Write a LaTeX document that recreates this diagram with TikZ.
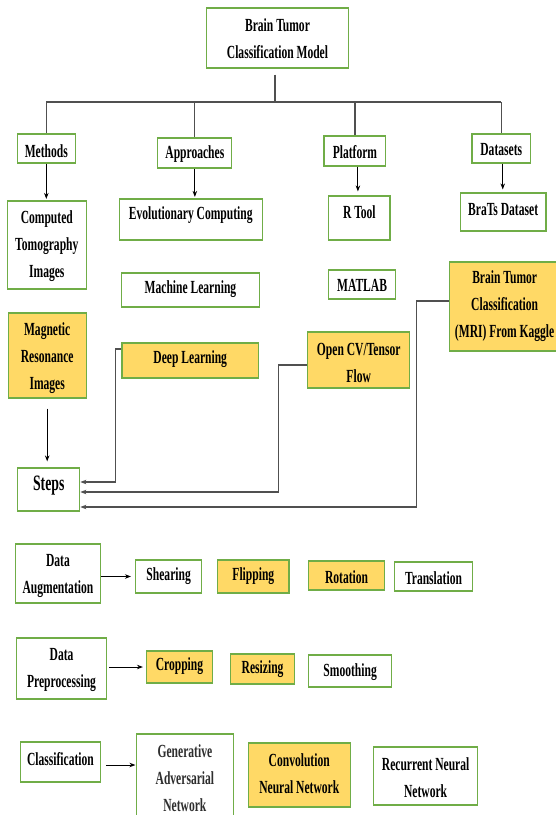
\documentclass[tikz,border=0pt]{standalone}
\usepackage{fontspec}
\setmainfont[FakeStretch=0.625]{Liberation Serif}
\usetikzlibrary{arrows.meta,calc}
\definecolor{bgreen}{HTML}{70AD47}
\definecolor{byellow}{HTML}{FFD966}
\definecolor{lgray}{HTML}{505050}
\tikzset{
  wbox/.style={draw=bgreen, line width=1.15pt, fill=white, rectangle, inner sep=0pt},
  ybox/.style={wbox, fill=byellow},
  txt/.style={font=\bfseries\fontsize{18.5}{27}\selectfont, align=center, inner sep=0pt, text=black},
  bus/.style={draw=lgray, line width=1.2pt},
  arr/.style={draw=black, line width=0.9pt, -{Stealth[length=6pt,width=4.5pt]}},
  elb/.style={draw=lgray, line width=1.2pt, -{Stealth[length=6pt,width=4.5pt]}, color=lgray},
}
\newcommand\bx[8]{%
  \node[#2, minimum width={(#5-#3)*1pt}, minimum height={(#6-#4)*1pt}] (#1) at ({(#3+#5)/2},{(#4+#6)/2}) {};
  \node[txt] (#1t) at ({(#3+#5)/2},#7) {#8};}
\begin{document}
\begin{tikzpicture}[x=1pt,y=-1pt]
\useasboundingbox (0,0) rectangle (556,815);
\clip (0,0) rectangle (556,815);
\fill[white] (0,0) rectangle (556,815);
\bx{top}{wbox}{206.4}{8}{348.6}{68}{38.5}{Brain Tumor\\Classification Model}
\bx{meth}{wbox}{17.4}{134}{75.2}{163}{151}{Methods}
\bx{appr}{wbox}{157.8}{138}{231.9}{168}{154}{Approaches}
\bx{plat}{wbox}{324}{136}{385.8}{166}{152}{Platform}
\bx{data}{wbox}{472}{134}{530.5}{163}{150}{Datasets}
\bx{ct}{wbox}{7.4}{201}{86.2}{289}{246}{Computed\\Tomography\\Images}
\bx{evo}{wbox}{119.1}{199}{262.4}{240}{215}{Evolutionary Computing}
\bx{rt}{wbox}{328.7}{196}{390}{240}{212}{R Tool}
\bx{brats}{wbox}{460.3}{193}{546}{231}{210}{BraTs Dataset}
\bx{ml}{wbox}{121.3}{273}{259.6}{307}{289}{Machine Learning}
\bx{mat}{wbox}{328.7}{270}{395.4}{299}{285}{MATLAB}
\bx{kag}{ybox}{449.3}{262}{560}{351}{306}{Brain Tumor\\Classification\\(MRI) From Kaggle}
\bx{mri}{ybox}{8.2}{313}{86.2}{398}{358}{Magnetic\\Resonance\\Images}
\bx{dl}{ybox}{122}{343}{258.5}{378}{359}{Deep Learning}
\bx{ocv}{ybox}{307.8}{332}{409.6}{388}{362.7}{Open CV/Tensor\\Flow}
\bx{steps}{wbox}{17.7}{468}{79.8}{511}{486}{\fontsize{22}{27}\selectfont Steps}
\bx{da}{wbox}{15.2}{544}{100.7}{603}{575.5}{Data\\Augmentation}
\bx{sh}{wbox}{135.5}{560}{201.8}{593}{576}{Shearing}
\bx{fl}{ybox}{217.7}{560}{289}{593}{576}{Flipping}
\bx{rot}{ybox}{308.5}{561}{384.7}{590}{577}{Rotation}
\bx{tr}{wbox}{394.3}{562}{472.7}{591}{578}{Translation}
\bx{dp}{wbox}{16.7}{638}{106.4}{699}{670}{Data\\Preprocessing}
\bx{cr}{ybox}{146.5}{651}{212.4}{683}{666}{Cropping}
\bx{rs}{ybox}{230.5}{654}{294.7}{684}{669}{Resizing}
\bx{sm}{wbox}{308.5}{655}{391.8}{687}{672}{Smoothing}
\bx{cl}{wbox}{20.2}{742}{100.7}{782}{759}{Classification}
\bx{gan}{wbox}{136.5}{734}{233.3}{830}{778.4}{\color{black!82}Generative\\\color{black!82}Adversarial\\\color{black!82}Network}
\bx{cnn}{ybox}{248.2}{743}{350.3}{807}{773.7}{Convolution\\Neural Network}
\bx{rnn}{wbox}{373.7}{747}{477.6}{805}{777.3}{Recurrent Neural\\Network}
% tree
\coordinate (busc) at (275,102);
\draw[bus] ([yshift=-6pt]top.south -| busc) -- (busc);
\draw[bus] (meth.north |- busc) -- (data.north |- busc);
\foreach \n in {meth,appr,plat,data}{\draw[bus] (\n.north |- busc) -- (\n.north);}
% down arrows
\draw[arr, shorten >=1.5pt] (meth.south) -- (meth.south |- ct.north);
\draw[arr, shorten >=1.5pt] (appr.south) -- (appr.south |- evo.north);
\draw[arr, shorten >=4pt] ([xshift=3pt]plat.south) -- ([xshift=3pt]plat.south |- rt.north);
\draw[arr, shorten >=3pt] ([xshift=1.5pt]data.south) -- ([xshift=1.5pt]data.south |- brats.north);
\draw[arr] ([yshift=-10pt]mri.south) -- ([yshift=6pt]mri.south |- steps.north);
% elbow connectors to Steps
\draw[elb] ([yshift=11.5pt]dl.west) -- ++(-5.7,0) |- ([yshift=7.5pt]steps.east);
\draw[elb] ([yshift=-5pt]ocv.west) -- ++(-28.8,0) |- ([yshift=-2.5pt]steps.east);
\draw[elb] ([yshift=5.5pt]kag.west) -- ++(-32.3,0) |- ([yshift=-17.5pt]steps.east);
% row arrows
\draw[arr, shorten >=4pt] (da.east |- sh.west) -- (sh.west);
\draw[arr, shorten >=3pt] ([xshift=2.5pt]dp.east |- cr.west) -- (cr.west);
\draw[arr, shorten >=0.5pt] ([xshift=4.6pt,yshift=-3pt]cl.east) -- ([yshift=-3pt]cl.east -| gan.west);
\end{tikzpicture}
\end{document}
